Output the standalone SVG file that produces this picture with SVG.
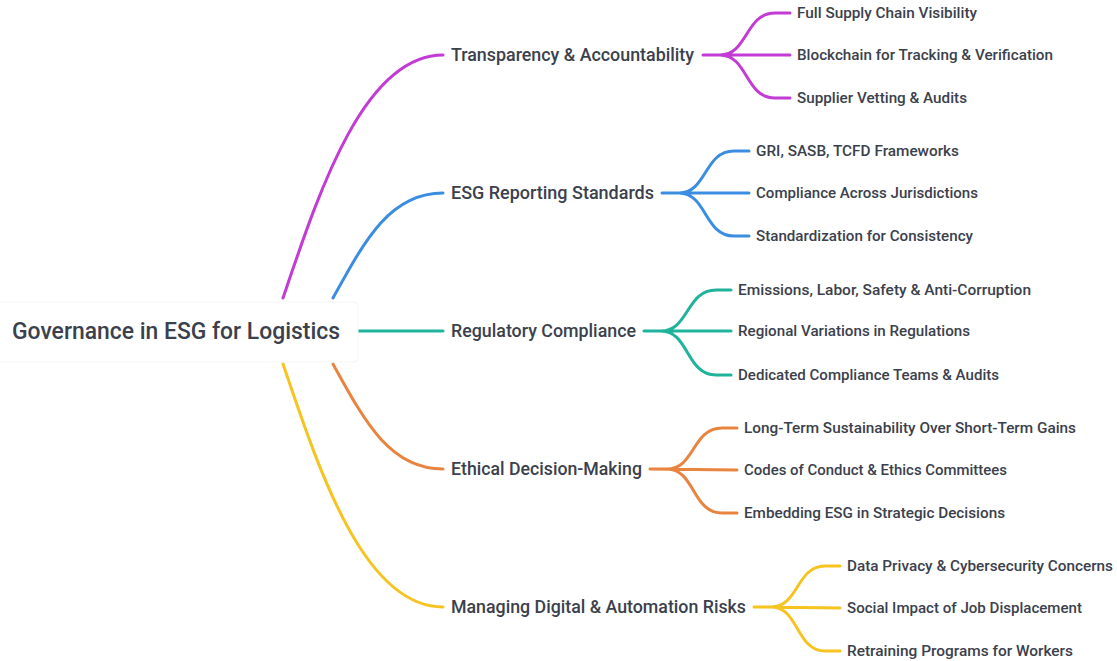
<svg xmlns="http://www.w3.org/2000/svg" width="1117" height="661" viewBox="0 0 1117 661">
<style>
text{font-family:Roboto,"Liberation Sans",sans-serif;fill:#3b414c;font-weight:500}
.root{font-size:23px}
.l1{font-size:18px}
.l2{font-size:15px}
.c{fill:none;stroke-width:3;stroke-linecap:round}
.p{stroke:#c23bd4}.b{stroke:#3a8de0}.t{stroke:#1fb39b}.o{stroke:#e8843f}.y{stroke:#f5c421}
</style>
<rect width="1117" height="661" fill="#fff"/>
<g id="connectors">
<path class="c p" d="M283,298 C318,195 363,55 443,55"/>
<path class="c b" d="M333,298 C365,240 390,193 443,193"/>
<path class="c t" d="M358,331 L443,331"/>
<path class="c o" d="M333,364 C365,422 390,469 443,469"/>
<path class="c y" d="M283,364 C318,467 363,607 443,607"/>
<path class="c p" d="M703,55 L720,55 C748,55 745,13 775,13 L790,13 M703,55 L790,55 M720,55 C748,55 745,98 775,98 L790,98"/>
<path class="c b" d="M662,193 L679,193 C707,193 704,151 734,151 L749,151 M662,193 L749,193 M679,193 C707,193 704,236 734,236 L749,236"/>
<path class="c t" d="M644,331 L661,331 C689,331 686,290 716,290 L731,290 M644,331 L731,331 M661,331 C689,331 686,375 716,375 L731,375"/>
<path class="c o" d="M650,469 L667,469 C695,469 692,428 722,428 L737,428 M650,469 L737,470 M667,469 C695,469 692,513 722,513 L737,513"/>
<path class="c y" d="M754,607 L771,607 C799,607 796,566 825,566 L840,566 M754,607 L840,608 M771,607 C799,607 796,651 825,651 L840,651"/>
</g>
<g id="root">
<rect x="-4" y="302" width="362" height="60" rx="4" fill="#fff" stroke="#f5f5f5"/>
<text class="root" x="12" y="339" textLength="328" lengthAdjust="spacingAndGlyphs">Governance in ESG for Logistics</text>
</g>
<g id="n1"><text class="l1" x="451" y="61" textLength="243" lengthAdjust="spacingAndGlyphs">Transparency &amp; Accountability</text></g>
<g id="n1a"><text class="l2" x="797" y="18" textLength="180" lengthAdjust="spacingAndGlyphs">Full Supply Chain Visibility</text></g>
<g id="n1b"><text class="l2" x="797" y="60" textLength="256" lengthAdjust="spacingAndGlyphs">Blockchain for Tracking &amp; Verification</text></g>
<g id="n1c"><text class="l2" x="797" y="103" textLength="170" lengthAdjust="spacingAndGlyphs">Supplier Vetting &amp; Audits</text></g>
<g id="n2"><text class="l1" x="451" y="199" textLength="203" lengthAdjust="spacingAndGlyphs">ESG Reporting Standards</text></g>
<g id="n2a"><text class="l2" x="756" y="156" textLength="203" lengthAdjust="spacingAndGlyphs">GRI, SASB, TCFD Frameworks</text></g>
<g id="n2b"><text class="l2" x="756" y="198" textLength="222" lengthAdjust="spacingAndGlyphs">Compliance Across Jurisdictions</text></g>
<g id="n2c"><text class="l2" x="756" y="241" textLength="217" lengthAdjust="spacingAndGlyphs">Standardization for Consistency</text></g>
<g id="n3"><text class="l1" x="451" y="337" textLength="185" lengthAdjust="spacingAndGlyphs">Regulatory Compliance</text></g>
<g id="n3a"><text class="l2" x="738" y="295" textLength="293" lengthAdjust="spacingAndGlyphs">Emissions, Labor, Safety &amp; Anti-Corruption</text></g>
<g id="n3b"><text class="l2" x="738" y="336" textLength="232" lengthAdjust="spacingAndGlyphs">Regional Variations in Regulations</text></g>
<g id="n3c"><text class="l2" x="738" y="380" textLength="261" lengthAdjust="spacingAndGlyphs">Dedicated Compliance Teams &amp; Audits</text></g>
<g id="n4"><text class="l1" x="451" y="475" textLength="191" lengthAdjust="spacingAndGlyphs">Ethical Decision-Making</text></g>
<g id="n4a"><text class="l2" x="744" y="433" textLength="332" lengthAdjust="spacingAndGlyphs">Long-Term Sustainability Over Short-Term Gains</text></g>
<g id="n4b"><text class="l2" x="744" y="475" textLength="263" lengthAdjust="spacingAndGlyphs">Codes of Conduct &amp; Ethics Committees</text></g>
<g id="n4c"><text class="l2" x="744" y="518" textLength="261" lengthAdjust="spacingAndGlyphs">Embedding ESG in Strategic Decisions</text></g>
<g id="n5"><text class="l1" x="451" y="613" textLength="295" lengthAdjust="spacingAndGlyphs">Managing Digital &amp; Automation Risks</text></g>
<g id="n5a"><text class="l2" x="847" y="571" textLength="266" lengthAdjust="spacingAndGlyphs">Data Privacy &amp; Cybersecurity Concerns</text></g>
<g id="n5b"><text class="l2" x="847" y="613" textLength="235" lengthAdjust="spacingAndGlyphs">Social Impact of Job Displacement</text></g>
<g id="n5c"><text class="l2" x="847" y="656" textLength="226" lengthAdjust="spacingAndGlyphs">Retraining Programs for Workers</text></g>
</svg>
